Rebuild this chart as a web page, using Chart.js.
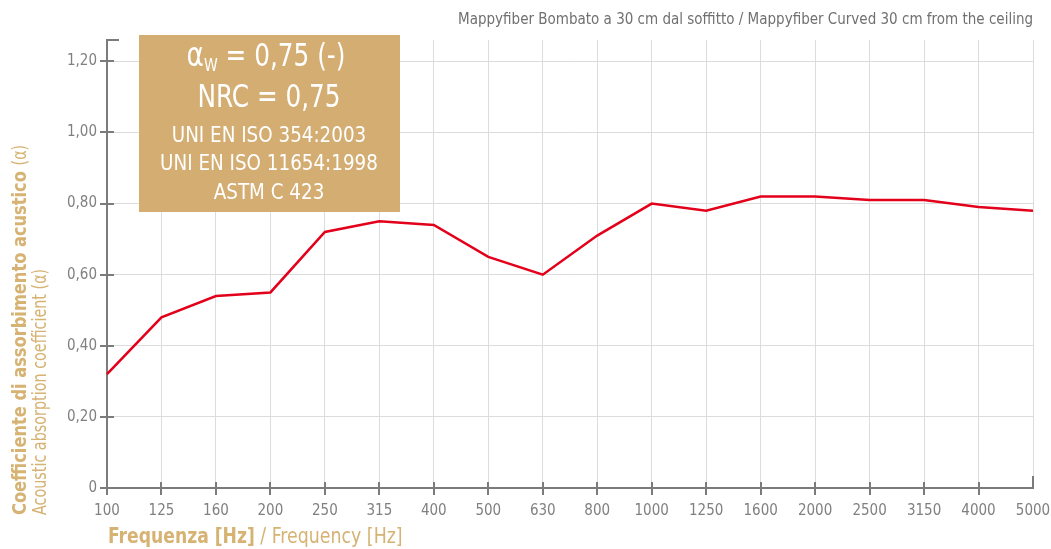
<!DOCTYPE html>
<html>
<head>
<meta charset="utf-8">
<script src="https://cdn.jsdelivr.net/npm/chart.js@4"></script>
<style>
  html, body { margin: 0; padding: 0; background: #ffffff; }
  #wrap { width: 1051px; height: 549px; }
</style>
</head>
<body>
<div id="wrap"><canvas id="c" width="1051" height="549"></canvas></div>
<script>
const frequencies = ['100','125','160','200','250','315','400','500','630','800','1000','1250','1600','2000','2500','3150','4000','5000'];
const absorption = [0.32,0.48,0.54,0.55,0.72,0.75,0.74,0.65,0.60,0.71,0.80,0.78,0.82,0.82,0.81,0.81,0.79,0.78];
const yTickValues = [0,0.2,0.4,0.6,0.8,1.0,1.2];
const chartTitle = 'Mappyfiber Bombato a 30 cm dal soffitto / Mappyfiber Curved 30 cm from the ceiling';
const yTitleBold = 'Coefficiente di assorbimento acustico ';
const yTitleBoldTail = '(α)';
const yTitleSecond = 'Acoustic absorption coefficient (α)';
const xTitleBold = 'Frequenza [Hz]';
const xTitleRest = ' / Frequency [Hz]';
const boxLines = ['= 0,75 (-)', 'NRC = 0,75', 'UNI EN ISO 354:2003', 'UNI EN ISO 11654:1998', 'ASTM C 423'];

const FONT = "'Liberation Sans Narrow', 'DejaVu Sans Condensed', 'Roboto Condensed', sans-serif";
const AXIS_GRAY = '#7b7b7b';
const TAN = '#d6b273';
const BOX = '#d3ad72';

// draw text horizontally condensed by factor k, anchored at (x,y) with given alignment
function squeezed(ctx, text, x, y, k, align) {
  const w = ctx.measureText(text).width * k;
  let left = x;
  if (align === 'center') left = x - w / 2;
  else if (align === 'right') left = x - w;
  ctx.save();
  ctx.translate(left, y);
  ctx.scale(k, 1);
  ctx.textAlign = 'left';
  ctx.fillText(text, 0, 0);
  ctx.restore();
  return w;
}

const decorPlugin = {
  id: 'decor',
  afterDraw(chart) {
    const ctx = chart.ctx;
    const a = chart.chartArea;
    const xs = chart.scales.x, ys = chart.scales.y;
    ctx.save();
    // tick marks crossing axes
    ctx.strokeStyle = AXIS_GRAY;
    ctx.lineWidth = 2;
    ctx.beginPath();
    yTickValues.forEach(v => {
      const y = Math.round(ys.getPixelForValue(v));
      ctx.moveTo(a.left - 7, y); ctx.lineTo(a.left + 7, y);
    });
    frequencies.forEach((f, i) => {
      if (i === frequencies.length - 1) return;
      const x = Math.round(xs.getPixelForValue(i));
      ctx.moveTo(x, a.bottom - 6); ctx.lineTo(x, a.bottom + 7);
    });
    ctx.moveTo(a.left - 1, a.top); ctx.lineTo(a.left + 12, a.top);
    ctx.moveTo(a.right, a.bottom + 1); ctx.lineTo(a.right, a.bottom - 12);
    ctx.stroke();

    ctx.textBaseline = 'middle';

    // title
    ctx.fillStyle = '#707070';
    ctx.font = '15px ' + FONT;
    squeezed(ctx, chartTitle, 1033, 20, 1.0, 'right');

    // y axis title
    ctx.save();
    ctx.translate(21, 515);
    ctx.rotate(-Math.PI / 2);
    ctx.fillStyle = TAN;
    ctx.font = 'bold 19px ' + FONT;
    const w1 = squeezed(ctx, yTitleBold, 0, 0, 0.95, 'left');
    ctx.font = '19px ' + FONT;
    squeezed(ctx, yTitleBoldTail, w1, 0, 0.84, 'left');
    squeezed(ctx, yTitleSecond, 0, 20, 0.84, 'left');
    ctx.restore();

    // x axis title
    ctx.fillStyle = TAN;
    ctx.font = 'bold 21px ' + FONT;
    const w2 = squeezed(ctx, xTitleBold, 108, 538, 0.91, 'left');
    ctx.font = '21px ' + FONT;
    squeezed(ctx, xTitleRest, 108 + w2, 538, 0.92, 'left');

    // info box
    ctx.fillStyle = BOX;
    ctx.fillRect(139, 35, 261, 177);
    ctx.fillStyle = '#ffffff';
    const k = 0.86;
    ctx.font = '34px ' + FONT;
    const wa = ctx.measureText('α').width * k;
    ctx.font = '18px ' + FONT;
    const ww = ctx.measureText('W').width * k;
    ctx.font = '32px ' + FONT;
    const wr = ctx.measureText(' ' + boxLines[0]).width * k;
    const sx = 266 - (wa + ww + wr) / 2;
    ctx.font = '34px ' + FONT;
    squeezed(ctx, 'α', sx, 57, k, 'left');
    ctx.font = '18px ' + FONT;
    squeezed(ctx, 'W', sx + wa, 66, k, 'left');
    ctx.font = '32px ' + FONT;
    squeezed(ctx, ' ' + boxLines[0], sx + wa + ww, 58, k, 'left');
    squeezed(ctx, boxLines[1], 269, 99, k, 'center');
    ctx.font = '21px ' + FONT;
    squeezed(ctx, boxLines[2], 269, 137, 0.97, 'center');
    squeezed(ctx, boxLines[3], 269, 165, 0.97, 'center');
    squeezed(ctx, boxLines[4], 269, 194, 0.97, 'center');
    ctx.restore();
  }
};

new Chart(document.getElementById('c'), {
  type: 'line',
  data: {
    labels: frequencies,
    datasets: [{
      data: absorption,
      borderColor: '#e3001b',
      borderWidth: 2.5,
      pointRadius: 0,
      tension: 0,
      fill: false
    }]
  },
  options: {
    responsive: false,
    animation: false,
    devicePixelRatio: 1,
    layout: { padding: { left: 0, right: 18, top: 40, bottom: 0 } },
    plugins: { legend: { display: false }, tooltip: { enabled: false } },
    scales: {
      x: {
        type: 'category',
        offset: false,
        grid: { color: '#dcdcdc', lineWidth: 1, drawTicks: false },
        border: { display: true, color: AXIS_GRAY, width: 2 },
        ticks: { color: '#808080', font: { family: FONT, size: 15 }, padding: 14, maxRotation: 0, autoSkip: false },
        afterFit(s) { s.height = 61; s.paddingLeft = 0; s.paddingRight = 0; }
      },
      y: {
        min: 0,
        max: 1.26,
        grid: { color: '#dcdcdc', lineWidth: 1, drawTicks: false },
        border: { display: true, color: AXIS_GRAY, width: 2 },
        afterBuildTicks(axis) { axis.ticks = yTickValues.map(v => ({ value: v })); },
        ticks: {
          color: '#808080',
          font: { family: FONT, size: 15 },
          padding: 10,
          callback(v) { return v === 0 ? '0' : Number(v).toFixed(2).replace('.', ','); }
        },
        afterFit(s) { s.width = 107; s.paddingTop = 0; s.paddingBottom = 0; }
      }
    }
  },
  plugins: [decorPlugin]
});
</script>
</body>
</html>
